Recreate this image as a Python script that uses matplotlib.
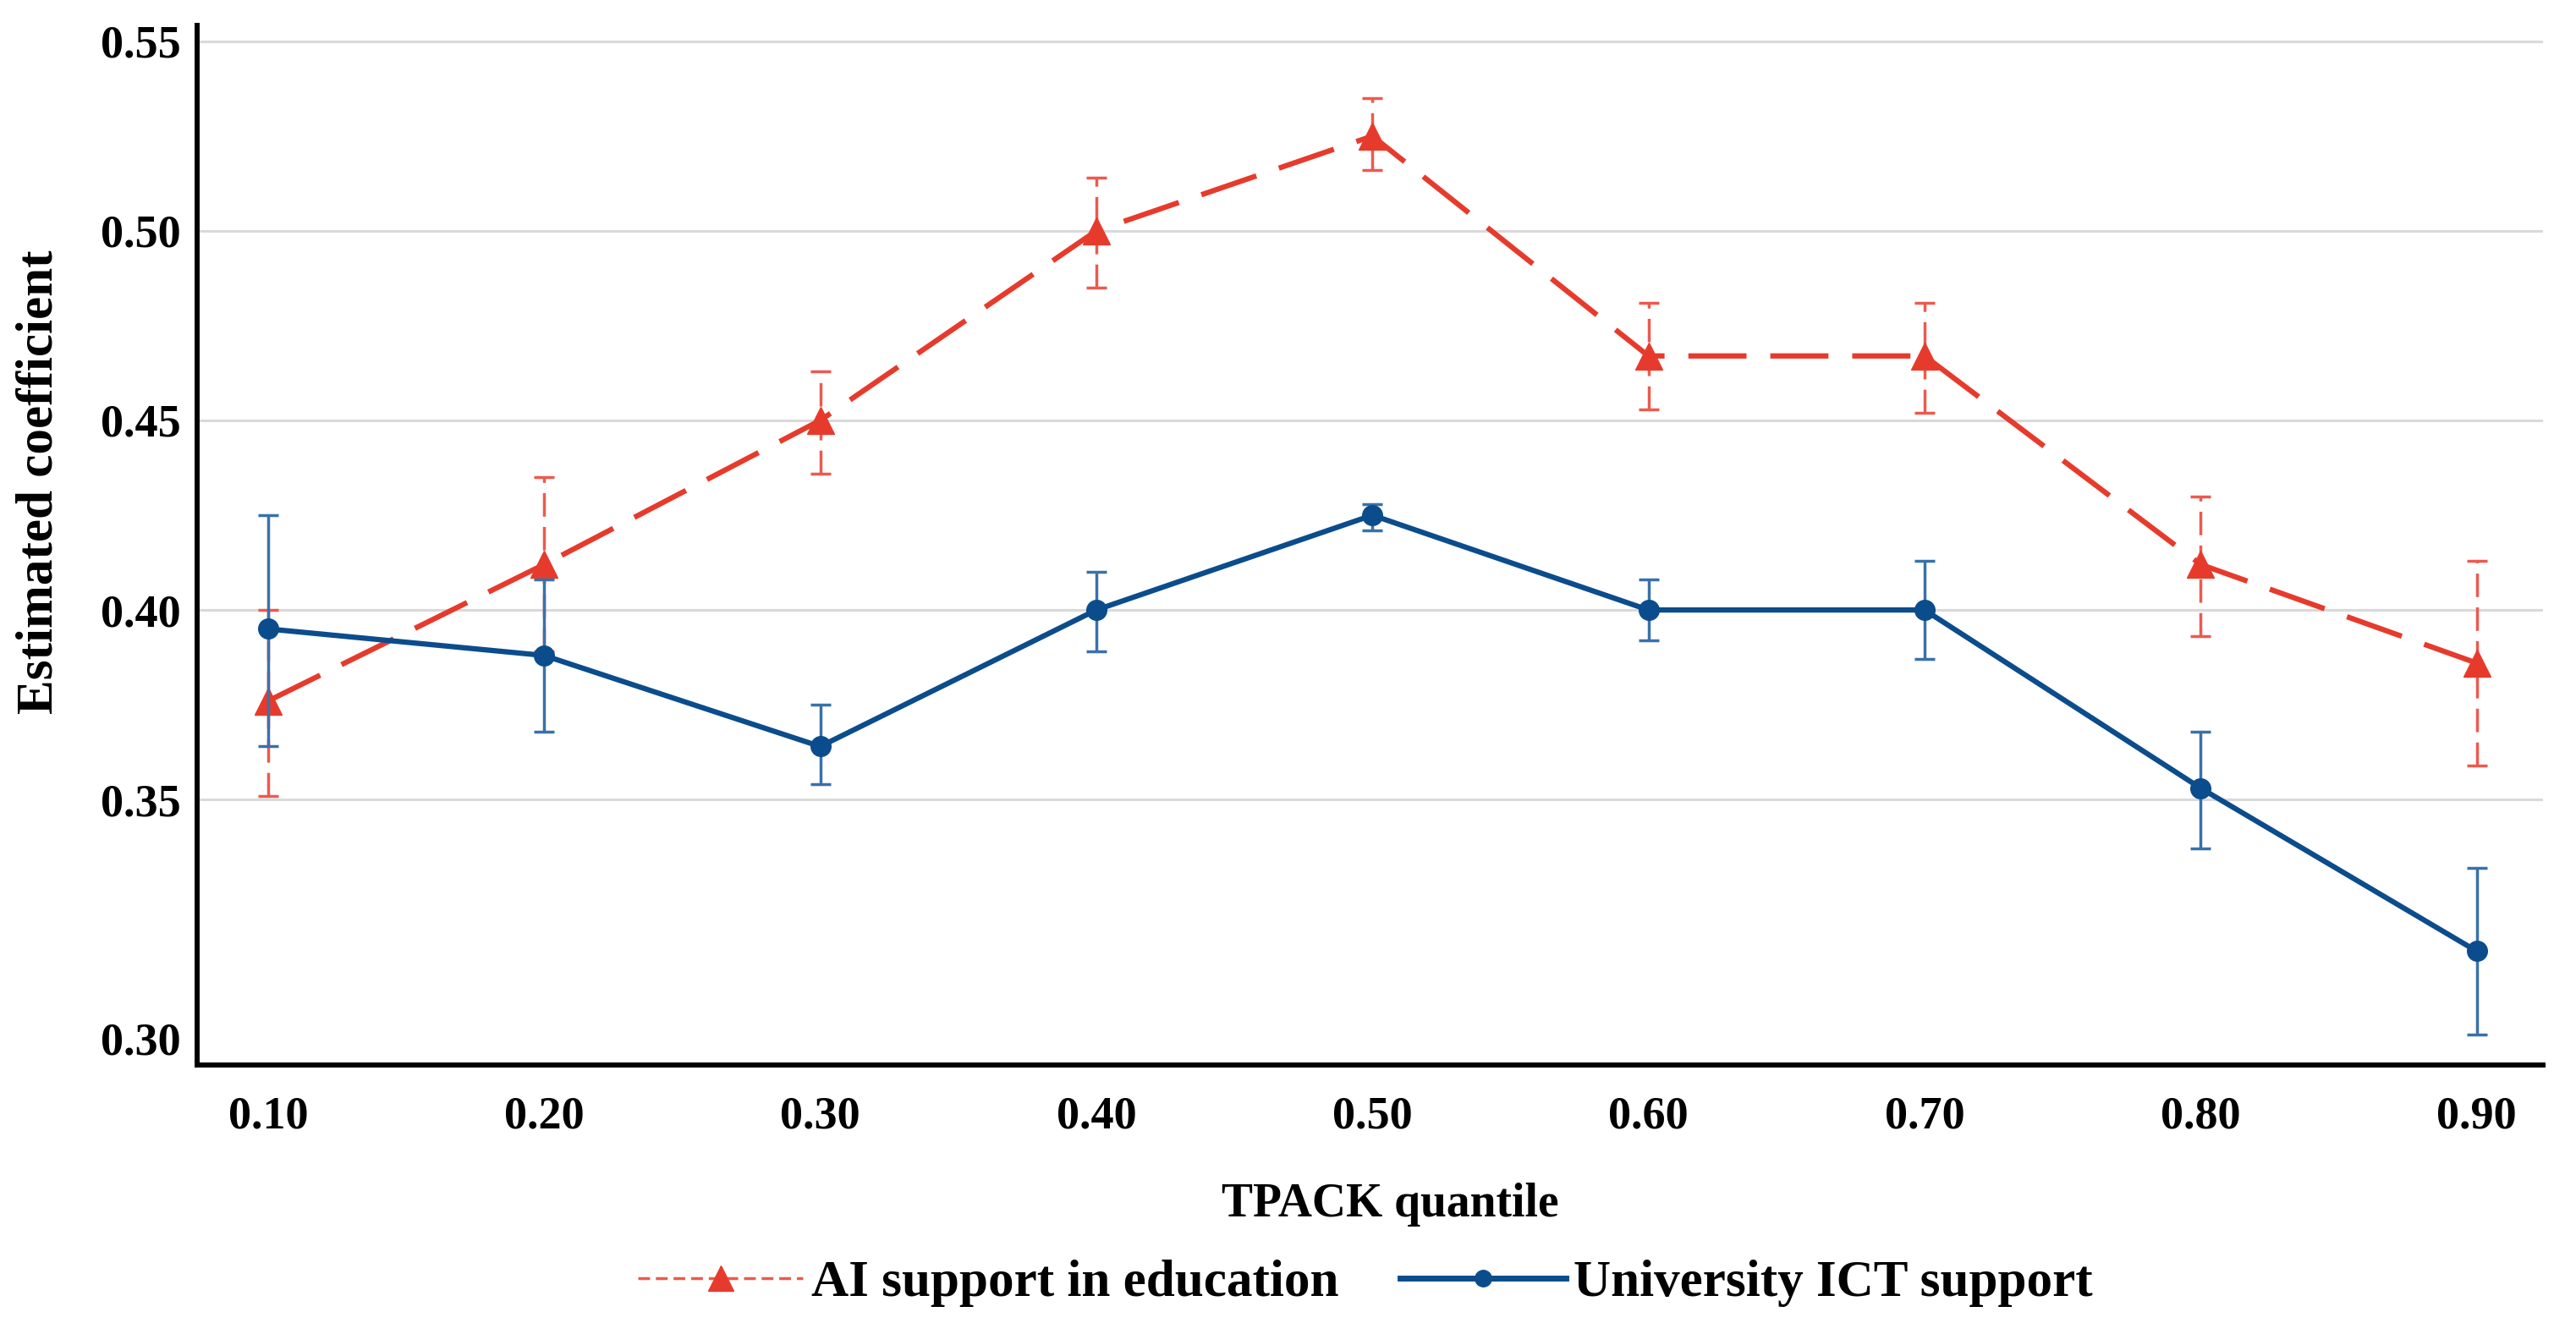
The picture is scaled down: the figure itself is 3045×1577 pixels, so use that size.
import matplotlib
matplotlib.use('Agg')
import matplotlib.pyplot as plt
from matplotlib.lines import Line2D
from matplotlib.ticker import FormatStrFormatter
import numpy as np

plt.rcParams['font.family'] = ['Liberation Serif', 'DejaVu Serif']
plt.rcParams['font.weight'] = 'bold'

# ── colours ──────────────────────────────────────────────────────────────────
AI_LINE = '#E63B2C'
AI_ERR = '#EC5A4F'
ICT_LINE = '#0B4C8C'
ICT_ERR = '#3971AA'
GRID = '#D9D9D9'

# ── data ─────────────────────────────────────────────────────────────────────
quantiles = [0.10, 0.20, 0.30, 0.40, 0.50, 0.60, 0.70, 0.80, 0.90]

ai_coef = [0.376, 0.412, 0.450, 0.500, 0.525, 0.467, 0.467, 0.412, 0.386]
ai_low = [0.351, 0.389, 0.436, 0.485, 0.516, 0.453, 0.452, 0.393, 0.359]
ai_high = [0.400, 0.435, 0.463, 0.514, 0.535, 0.481, 0.481, 0.430, 0.413]

ict_coef = [0.395, 0.388, 0.364, 0.400, 0.425, 0.400, 0.400, 0.353, 0.310]
ict_low = [0.364, 0.368, 0.354, 0.389, 0.421, 0.392, 0.387, 0.337, 0.288]
ict_high = [0.425, 0.408, 0.375, 0.410, 0.428, 0.408, 0.413, 0.368, 0.332]

ai_label = 'AI support in education'
ict_label = 'University ICT support'

# y tick labels; the bottom "0.30" label sits at the foot of the axis in the original
ytick_pos = [0.287, 0.35, 0.40, 0.45, 0.50, 0.55]
ytick_lab = ['0.30', '0.35', '0.40', '0.45', '0.50', '0.55']

fig = plt.figure(figsize=(30.45, 15.77), dpi=100)
ax = fig.add_axes([0.0765, 0.2017, 0.9107, 0.7793])

ai_c = np.array(ai_coef)
ai_err = [ai_c - np.array(ai_low), np.array(ai_high) - ai_c]
ict_c = np.array(ict_coef)
ict_err = [ict_c - np.array(ict_low), np.array(ict_high) - ict_c]

# ── AI series (dashed, triangles) ────────────────────────────────────────────
eb1 = ax.errorbar(quantiles, ai_coef, yerr=ai_err, color=AI_LINE, ecolor=AI_ERR,
                  linestyle=(0, (11, 4.5)), linewidth=4.5, marker='^', markersize=23,
                  elinewidth=2.5, capsize=8.5, capthick=2.5, zorder=3)
eb1[2][0].set_linestyle((0, (8, 3.5)))

# ── ICT series (solid, circles) ──────────────────────────────────────────────
eb2 = ax.errorbar(quantiles, ict_coef, yerr=ict_err, color=ICT_LINE, ecolor=ICT_ERR,
                  linestyle='-', linewidth=4.5, marker='o', markersize=17,
                  elinewidth=2.5, capsize=8.5, capthick=2.5, zorder=4)

# ── axes styling ─────────────────────────────────────────────────────────────
ax.set_xlim(0.0743, 0.924)
ax.set_ylim(0.28, 0.5542)
ax.set_xticks(quantiles)
ax.xaxis.set_major_formatter(FormatStrFormatter('%.2f'))
ax.set_yticks(ytick_pos)
ax.set_yticklabels(ytick_lab)
ax.tick_params(axis='both', length=0, labelsize=39)
ax.tick_params(axis='x', pad=26)
ax.tick_params(axis='y', pad=14)
for lab in ax.get_xticklabels() + ax.get_yticklabels():
    lab.set_fontweight('bold')

ax.grid(axis='y', color=GRID, linewidth=2.2, zorder=0)
ax.get_ygridlines()[0].set_visible(False)
ax.set_axisbelow(True)

ax.spines['top'].set_visible(False)
ax.spines['right'].set_visible(False)
ax.spines['left'].set_linewidth(4.3)
ax.spines['bottom'].set_linewidth(4.3)

ax.set_xlabel('TPACK quantile', fontsize=40, fontweight='bold')
ax.set_ylabel('Estimated coefficient', fontsize=44, fontweight='bold')
ax.xaxis.set_label_coords(0.5085, -0.113)
ax.yaxis.set_label_coords(-0.057, 0.561)

# ── legend ───────────────────────────────────────────────────────────────────
h_ai = Line2D([], [], color=AI_ERR, linestyle=(0, (4, 2)), linewidth=2.5,
              marker='^', markersize=21, markerfacecolor=AI_LINE, markeredgecolor=AI_LINE)
h_ict = Line2D([], [], color=ICT_LINE, linestyle='-', linewidth=5,
               marker='o', markersize=14)
fig.legend([h_ai, h_ict], [ai_label, ict_label], loc='center',
           bbox_to_anchor=(0.53, 0.038), ncol=2, frameon=False,
           prop={'size': 44, 'weight': 'bold'}, handlelength=3.2,
           handletextpad=0.15, columnspacing=1.2)

fig.savefig('out.png', dpi=100, facecolor='white')
